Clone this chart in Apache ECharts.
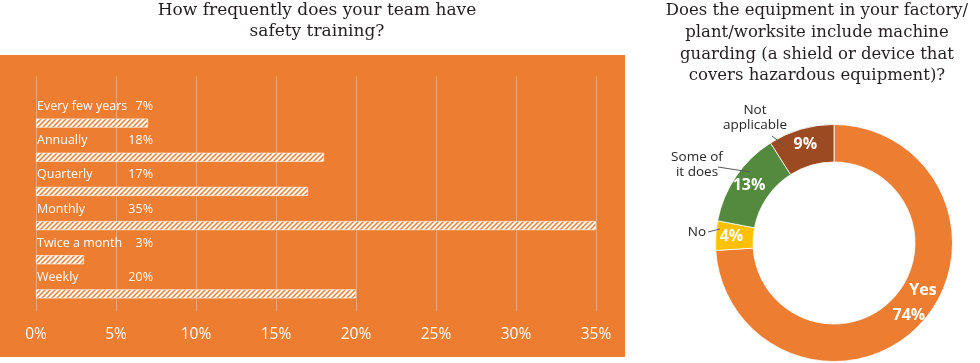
<!DOCTYPE html>
<html><head><meta charset="utf-8">
<script src="https://cdn.jsdelivr.net/npm/echarts@6/dist/echarts.min.js"></script>
<style>html,body{margin:0;padding:0;background:#fff}#c{width:980px;height:363px}</style>
</head><body><div id="c"></div>
<script>
// ---- data ----
const leftTitle = 'How frequently does your team have\nsafety training?';
const rightTitle = 'Does the equipment in your factory/\nplant/worksite include machine\nguarding (a shield or device that\ncovers hazardous equipment)?';
const barCategories = ['Every few years', 'Annually', 'Quarterly', 'Monthly', 'Twice a month', 'Weekly'];
const barValues = [7, 18, 17, 35, 3, 20];
const xMin = 0, xMax = 35, xStep = 5;
const pieNames = ['Yes', 'No', 'Some of\nit does', 'Not\napplicable'];
const pieValues = [74, 4, 13, 9];

// ---- styles ----
const ORANGE = '#ED7D31';
const pieColors = ['#ED7D31', '#FFC000', '#548A3D', '#9C4A21'];
const SANS = '"Open Sans", "Noto Sans", sans-serif';
const SERIF = '"DejaVu Serif", serif';
const PIE_C = [834, 243];
// label anchor offsets (relative to pie centre) for outer name labels
const outerLabel = {
  1: { t: [-137, -11], a: [-126, -11], b: [-114, -14] },
  2: { t: [-137, -78], a: [-116, -76], b: [-84, -71] },
  3: { t: [-79, -125], a: [-62, -107], b: [-49, -97] }
};

function hatch() {
  const s = 5;
  const c = document.createElement('canvas'); c.width = s; c.height = s;
  const g = c.getContext('2d');
  g.fillStyle = '#fff'; g.fillRect(0, 0, s, s);
  g.strokeStyle = ORANGE; g.lineWidth = 1.5;
  g.beginPath();
  g.moveTo(0, s); g.lineTo(s, 0);
  g.moveTo(-1, 1); g.lineTo(1, -1);
  g.moveTo(s - 1, s + 1); g.lineTo(s + 1, s - 1);
  g.stroke();
  return c;
}

const chart = echarts.init(document.getElementById('c'), null, { renderer: 'canvas' });
const xAxisCommon = {
  type: 'value', min: xMin, max: xMax, interval: xStep,
  axisLine: { show: false }, axisTick: { show: false },
  splitLine: { show: true, lineStyle: { color: 'rgba(255,255,255,0.3)', width: 1 } }
};
const option = {
  animation: false,
  backgroundColor: '#fff',
  title: [
    { text: leftTitle, left: 317, top: 0, padding: 0, textAlign: 'center',
      textStyle: { fontFamily: SERIF, fontSize: 17, fontWeight: 'normal', color: '#231F20', lineHeight: 21 } },
    { text: rightTitle, left: 817, top: 0, padding: 0, textAlign: 'center',
      textStyle: { fontFamily: SERIF, fontSize: 16.5, fontWeight: 'normal', color: '#231F20', lineHeight: 21.7 } }
  ],
  graphic: [
    { type: 'rect', z: -100, shape: { x: 0, y: 55, width: 625, height: 302 }, style: { fill: ORANGE }, silent: true }
  ],
  grid: [
    { left: 36, width: 560, top: 106, height: 205 },
    { left: 36, width: 560, top: 76, height: 30 }
  ],
  xAxis: [
    Object.assign({}, xAxisCommon, { gridIndex: 0,
      axisLabel: { formatter: '{value}%', color: '#fff', fontFamily: SANS, fontSize: 15.5, margin: 16 } }),
    Object.assign({}, xAxisCommon, { gridIndex: 1, axisLabel: { show: false } })
  ],
  yAxis: [
    { gridIndex: 0, type: 'category', data: barCategories, inverse: true, show: false },
    { gridIndex: 1, type: 'value', show: false, min: 0, max: 1 }
  ],
  series: [
    { type: 'bar', xAxisIndex: 0, yAxisIndex: 0, data: barValues, barWidth: 9,
      itemStyle: { color: { image: hatch(), repeat: 'repeat' }, borderColor: '#fff', borderWidth: 0.6 },
      label: { show: true, position: [1, -12], formatter: '{b}', color: '#fff', fontFamily: SANS, fontSize: 12.5,
        align: 'left', verticalAlign: 'middle' } },
    { type: 'bar', xAxisIndex: 0, yAxisIndex: 0, data: barValues, barWidth: 9, barGap: '-100%', silent: true,
      itemStyle: { color: 'rgba(0,0,0,0)' },
      label: { show: true, position: [117, -12], formatter: '{c}%', color: '#fff', fontFamily: SANS, fontSize: 12.5,
        align: 'right', verticalAlign: 'middle' } },
    { type: 'pie', center: PIE_C, radius: [81, 118.5], startAngle: 90, clockwise: true,
      data: pieValues.map((v, i) => ({ name: pieNames[i], value: v, itemStyle: { color: pieColors[i] } })),
      itemStyle: { borderColor: '#fff', borderWidth: 0.8 },
      label: { show: true, position: 'inside', color: '#fff', fontFamily: SANS, fontWeight: 'bold', fontSize: 16,
        formatter: p => p.dataIndex === 0 ? '{y|' + p.name + '}\n{p|' + p.value + '%}' : '{p|' + p.value + '%}',
        rich: {
          y: { color: '#fff', fontFamily: SANS, fontWeight: 'bold', fontSize: 16, lineHeight: 25, padding: [0, 0, 0, 28] },
          p: { color: '#fff', fontFamily: SANS, fontWeight: 'bold', fontSize: 16, lineHeight: 25 }
        } },
      labelLine: { show: false },
      labelLayout: p => p.dataIndex === 0 ? { dy: -10 } : {}
    },
    { type: 'pie', center: PIE_C, radius: [81, 118.5], startAngle: 90, clockwise: true, silent: true, z: 3,
      data: pieValues.map((v, i) => ({ name: pieNames[i], value: v,
        label: { show: i !== 0 }, labelLine: { show: i !== 0 } })),
      itemStyle: { color: 'rgba(0,0,0,0)' },
      label: { show: true, position: 'outside', formatter: '{b}', color: '#262626', fontFamily: SANS, fontSize: 13.5, lineHeight: 15 },
      labelLine: { show: true, lineStyle: { color: '#595959', width: 1 } },
      labelLayout: p => {
        const o = outerLabel[p.dataIndex];
        if (!o) return {};
        const pt = d => [PIE_C[0] + d[0], PIE_C[1] + d[1]];
        return { x: pt(o.t)[0], y: pt(o.t)[1], align: 'center', verticalAlign: 'middle',
          labelLinePoints: [pt(o.b), pt(o.a), pt(o.a)] };
      }
    }
  ]
};
chart.setOption(option);
</script>
</body></html>
